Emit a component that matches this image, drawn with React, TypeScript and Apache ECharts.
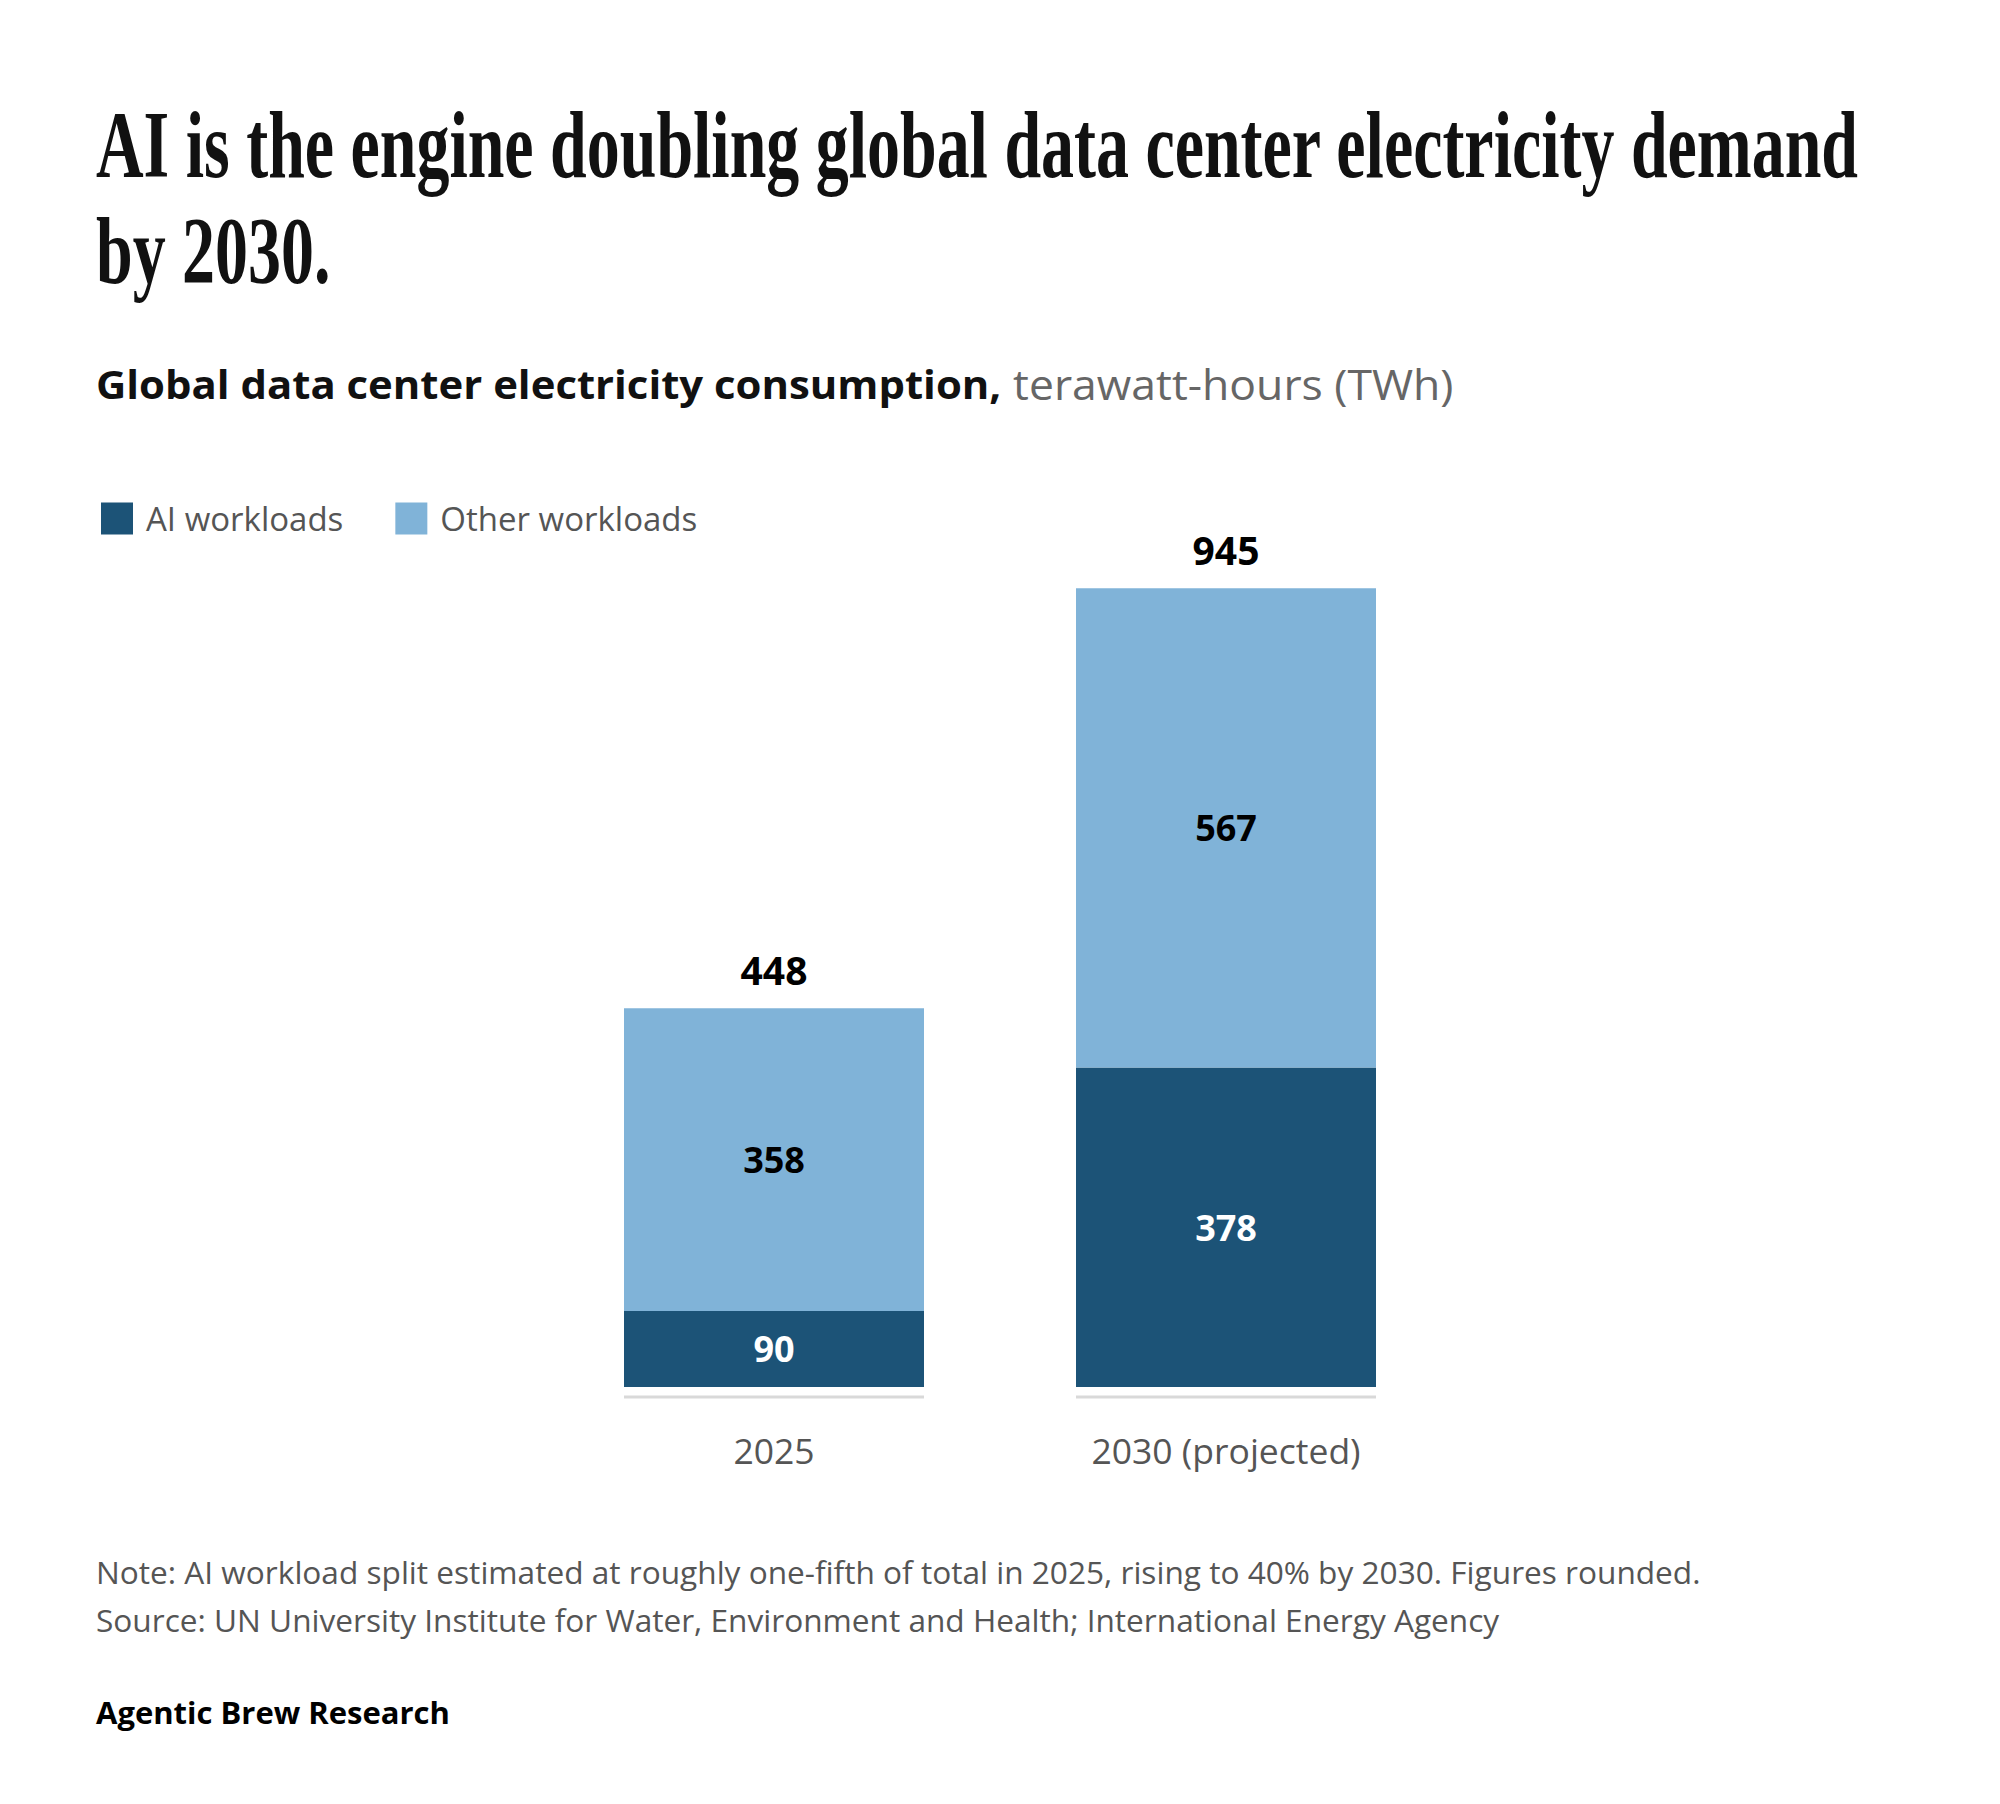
import React, { useEffect, useRef } from "react";
import * as echarts from "echarts";

// Global data center electricity consumption, TWh
const CATEGORIES = ["2025", "2030 (projected)"];
const AI_WORKLOADS = [90, 378];
const OTHER_WORKLOADS = [358, 567];
const TOTALS = CATEGORIES.map((_, i) => AI_WORKLOADS[i] + OTHER_WORKLOADS[i]);

const SERIES_NAMES = ["AI workloads", "Other workloads"];
const COLORS = { ai: "#1c5377", other: "#80b3d8" };

const TITLE = "AI is the engine doubling global data center electricity demand\nby 2030.";
const SUBTITLE_BOLD = "Global data center electricity consumption,";
const SUBTITLE_UNIT = " terawatt-hours (TWh)";
const NOTE = "Note: AI workload split estimated at roughly one-fifth of total in 2025, rising to 40% by 2030. Figures rounded.";
const SOURCE = "Source: UN University Institute for Water, Environment and Health; International Energy Agency";
const CREDIT = "Agentic Brew Research";

const SANS = "'Open Sans', Lato, 'Noto Sans', sans-serif";
const SERIF = "'Liberation Serif', 'DejaVu Serif', serif";
const BAR_WIDTH = 300;

export default function App() {
  const ref = useRef<HTMLDivElement>(null);

  useEffect(() => {
    if (!ref.current) return;
    const chart = echarts.init(ref.current, null, { renderer: "svg" });

    const option: any = {
      animation: false,
      backgroundColor: "#ffffff",
      textStyle: { fontFamily: SANS },
      graphic: [
        {
          type: "text",
          x: 96,
          y: 92,
          scaleX: 0.694,
          style: {
            text: TITLE,
            font: `bold 95px ${SERIF}`,
            fill: "#111111",
            lineHeight: 106,
            verticalAlign: "top",
          },
        },
        {
          type: "text",
          x: 96,
          y: 383,
          scaleX: 1.047,
          style: {
            text: `{b|${SUBTITLE_BOLD}}{r|${SUBTITLE_UNIT}}`,
            verticalAlign: "middle",
            rich: {
              b: { fontFamily: SANS, fontSize: 40, fontWeight: "bold", fill: "#111111" },
              r: { fontFamily: SANS, fontSize: 42.5, fill: "#666666" },
            },
          },
        },
        {
          type: "text",
          x: 96,
          y: 1596,
          scaleX: 1.02,
          style: {
            text: NOTE + "\n" + SOURCE,
            font: `31px ${SANS}`,
            fill: "#555555",
            lineHeight: 48,
            verticalAlign: "middle",
          },
        },
        {
          type: "text",
          x: 96,
          y: 1712,
          style: {
            text: CREDIT,
            font: `bold 31px ${SANS}`,
            fill: "#000000",
            verticalAlign: "middle",
          },
        },
      ],
      legend: {
        data: SERIES_NAMES,
        left: 96,
        top: 497,
        icon: "rect",
        itemWidth: 32,
        itemHeight: 32,
        itemGap: 52,
        selectedMode: false,
        textStyle: { fontFamily: SANS, fontSize: 33, color: "#555555", padding: [0, 0, 0, 8] },
      },
      grid: { left: 548, width: 904, top: 541.8, height: 845.2 },
      xAxis: {
        type: "category",
        data: CATEGORIES,
        axisLine: { show: false },
        axisTick: { show: false },
        axisLabel: { color: "#555555", fontSize: 35.5, fontFamily: SANS, margin: 45 },
      },
      yAxis: { type: "value", min: 0, max: 1000, show: false },
      series: [
        {
          name: SERIES_NAMES[0],
          type: "bar",
          stack: "total",
          barWidth: BAR_WIDTH,
          data: AI_WORKLOADS,
          itemStyle: { color: COLORS.ai },
          label: {
            show: true,
            position: "inside",
            color: "#ffffff",
            fontWeight: "bold",
            fontSize: 36,
            fontFamily: SANS,
          },
        },
        {
          name: SERIES_NAMES[1],
          type: "bar",
          stack: "total",
          barWidth: BAR_WIDTH,
          data: OTHER_WORKLOADS,
          itemStyle: { color: COLORS.other },
          label: {
            show: true,
            position: "inside",
            color: "#000000",
            fontWeight: "bold",
            fontSize: 36,
            fontFamily: SANS,
          },
        },
        {
          // Stack totals written above each bar
          name: "Total",
          type: "scatter",
          data: TOTALS,
          symbolSize: 0,
          z: 5,
          itemStyle: { opacity: 1, color: "#000000" },
          label: {
            show: true,
            position: "top",
            distance: 19,
            opacity: 1,
            formatter: (p: any) => String(p.value),
            color: "#000000",
            fontWeight: "bold",
            fontSize: 39,
            fontFamily: SANS,
          },
        },
        {
          // Thin grey rule beneath each bar
          name: "Baseline",
          type: "custom",
          data: CATEGORIES.map((_, i) => [i, 0]),
          renderItem: (_params: any, api: any) => {
            const p = api.coord([api.value(0), 0]);
            return {
              type: "line",
              shape: { x1: p[0] - BAR_WIDTH / 2, y1: p[1] + 10, x2: p[0] + BAR_WIDTH / 2, y2: p[1] + 10 },
              style: { stroke: "#d9d9d9", lineWidth: 3 },
            };
          },
        },
      ],
    };

    chart.setOption(option);
    return () => chart.dispose();
  }, []);

  return (
    <div
      ref={ref}
      style={{ position: "fixed", left: 0, top: 0, width: 2000, height: 1804, background: "#ffffff" }}
    />
  );
}
